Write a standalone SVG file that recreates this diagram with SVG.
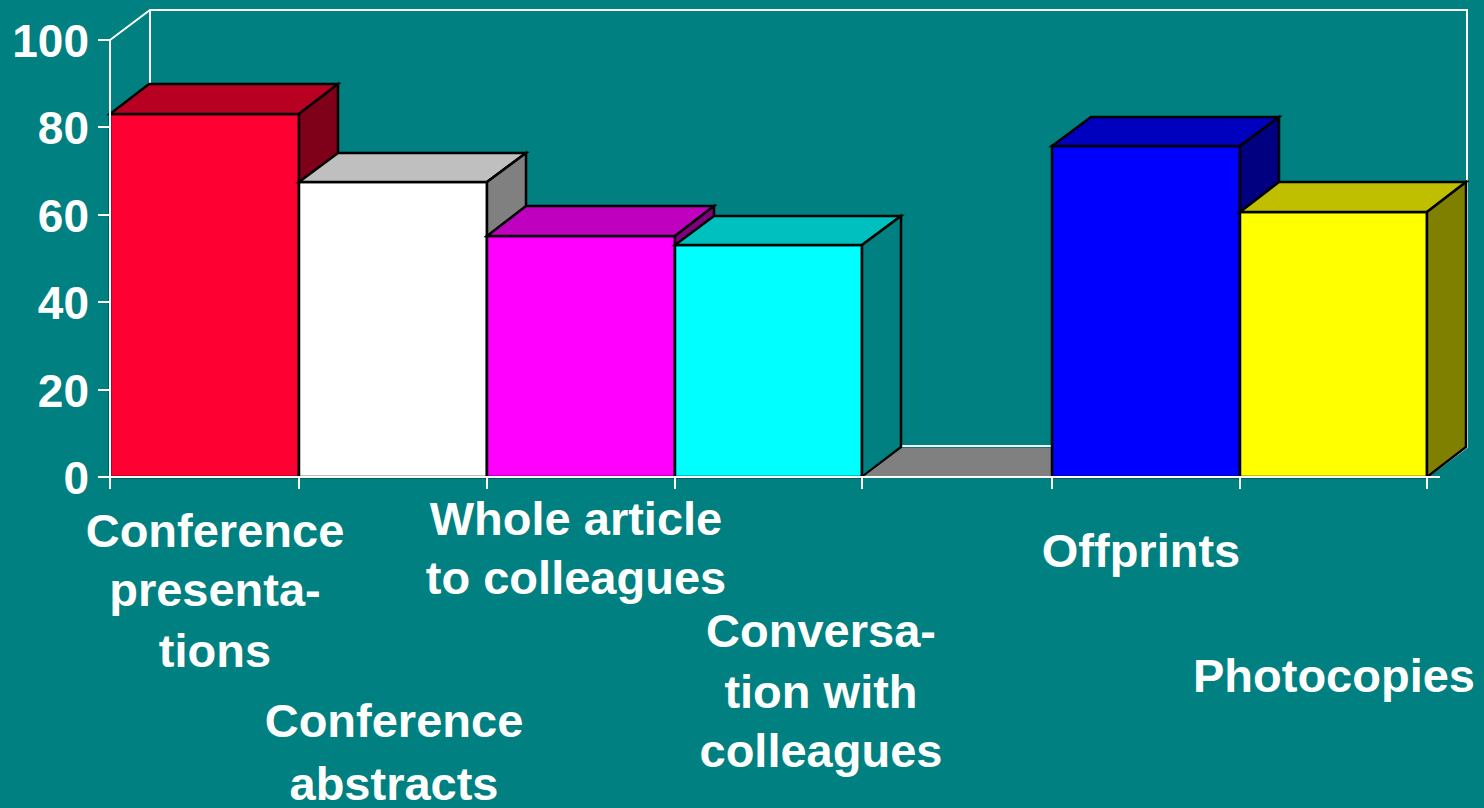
<svg xmlns="http://www.w3.org/2000/svg" width="1484" height="808" viewBox="0 0 1484 808">
<style>
.ax{stroke:#ffffff;stroke-width:2;fill:none}
.b{stroke:#000000;stroke-width:2.5;stroke-linejoin:miter}
.yl{font-family:"Liberation Sans",Arial,sans-serif;font-weight:bold;font-size:46px;fill:#ffffff;text-anchor:end}
.cl{font-family:"Liberation Sans",Arial,sans-serif;font-weight:bold;font-size:47px;fill:#ffffff;text-anchor:middle}
</style>
<rect x="0" y="0" width="1484" height="808" fill="#008080"/>
<g id="wall">
<polyline class="ax" points="110,40 150,10 1467,10 1467,447 1427,477"/>
<line class="ax" x1="150" y1="10" x2="150" y2="447"/>
<line class="ax" x1="150" y1="446" x2="1467" y2="446"/>
</g>
<g id="bar-conference-presentations">
<rect class="b" x="110" y="114" width="189" height="363" fill="#FF0033"/>
<polygon class="b" points="110,114 149,84 338,84 299,114" fill="#B80022"/>
<polygon class="b" points="299,114 338,84 338,447 299,477" fill="#7F0019"/>
</g>
<g id="bar-conference-abstracts">
<rect class="b" x="299" y="182" width="188" height="295" fill="#FFFFFF"/>
<polygon class="b" points="299,182 338,153 526,153 487,182" fill="#BFBFBF"/>
<polygon class="b" points="487,182 526,153 526,447 487,477" fill="#808080"/>
</g>
<g id="bar-whole-article">
<rect class="b" x="487" y="236" width="188" height="241" fill="#FF00FF"/>
<polygon class="b" points="487,236 526,206 714,206 675,236" fill="#BF00BF"/>
<polygon class="b" points="675,236 714,206 714,447 675,477" fill="#800080"/>
</g>
<g id="bar-conversation">
<rect class="b" x="675" y="245" width="187" height="232" fill="#00FFFF"/>
<polygon class="b" points="675,245 714,216 901,216 862,245" fill="#00BFBF"/>
<polygon class="b" points="862,245 901,216 901,447 862,477" fill="#008080"/>
</g>
<g id="bar-empty">
<polygon points="863,477 902,448 1091,448 1052,477" fill="#808080"/>
</g>
<g id="bar-offprints">
<rect class="b" x="1052" y="146" width="188" height="331" fill="#0000FF"/>
<polygon class="b" points="1052,146 1091,117 1279,117 1240,146" fill="#0000BF"/>
<polygon class="b" points="1240,146 1279,117 1279,447 1240,477" fill="#000080"/>
</g>
<g id="bar-photocopies">
<rect class="b" x="1240" y="212" width="187" height="265" fill="#FFFF00"/>
<polygon class="b" points="1240,212 1279,182 1466,182 1427,212" fill="#BFBF00"/>
<polygon class="b" points="1427,212 1466,182 1466,447 1427,477" fill="#808000"/>
</g>
<g id="axes">
<line class="ax" x1="110" y1="40" x2="110" y2="489"/>
<line class="ax" x1="98" y1="477" x2="1440" y2="477"/>
<path class="ax" d="M98 40H110M98 127H110M98 215H110M98 302H110M98 390H110"/>
<path class="ax" d="M299 477V489M487 477V489M675 477V489M862 477V489M1052 477V489M1240 477V489M1427 477V489"/>
</g>
<g id="y-labels">
<text class="yl" x="89" y="57">100</text>
<text class="yl" x="89" y="144">80</text>
<text class="yl" x="89" y="232">60</text>
<text class="yl" x="89" y="319">40</text>
<text class="yl" x="89" y="407">20</text>
<text class="yl" x="89" y="494">0</text>
</g>
<g id="x-labels">
<text class="cl" x="215" y="547">Conference</text>
<text class="cl" x="215" y="606">presenta-</text>
<text class="cl" x="215" y="667">tions</text>
<text class="cl" x="394" y="737">Conference</text>
<text class="cl" x="394" y="800">abstracts</text>
<text class="cl" x="576" y="535">Whole article</text>
<text class="cl" x="576" y="594">to colleagues</text>
<text class="cl" x="821" y="647">Conversa-</text>
<text class="cl" x="821" y="708">tion with</text>
<text class="cl" x="821" y="767">colleagues</text>
<text class="cl" x="1141" y="567">Offprints</text>
<text class="cl" x="1334" y="692">Photocopies</text>
</g>
</svg>
